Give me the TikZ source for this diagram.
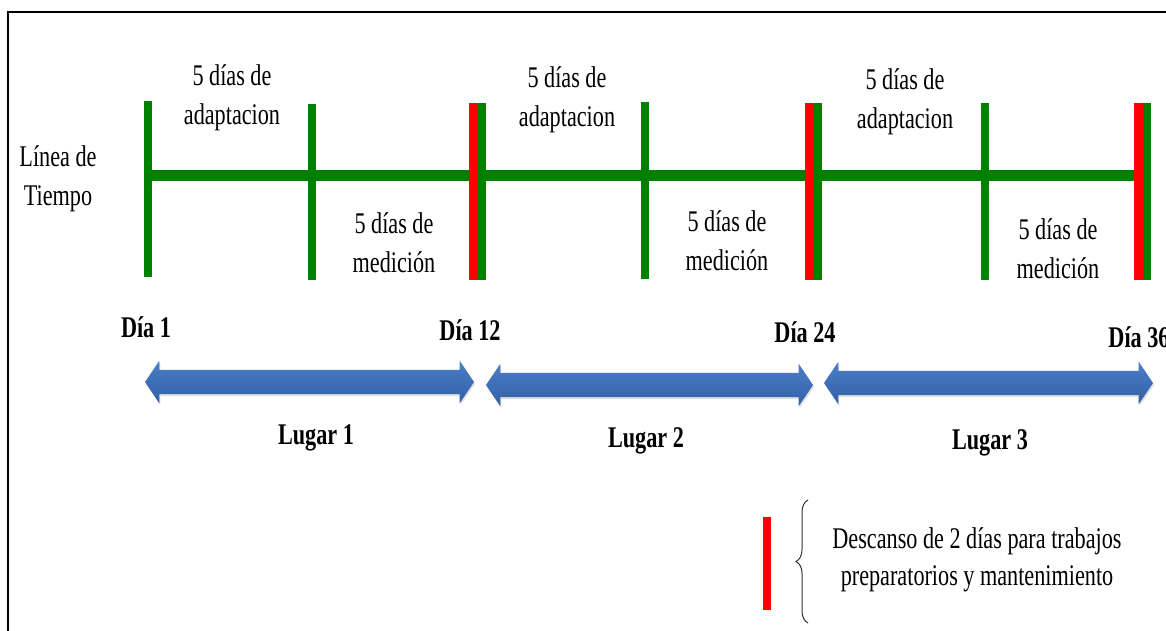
\documentclass[tikz,border=0pt]{standalone}
\usepackage{fontspec}
\setmainfont{Liberation Serif}[FakeStretch=0.74]
\usetikzlibrary{shapes.arrows,shadows,decorations.pathreplacing}

\definecolor{tlgreen}{RGB}{0,128,0}
\definecolor{tlred}{RGB}{255,0,0}
\definecolor{tlblue}{RGB}{74,126,200}
\definecolor{tlbluedark}{RGB}{50,96,165}

\tikzset{
  phase text/.style={font=\fontsize{30}{39}\selectfont, align=center, inner sep=0pt},
  day text/.style={font=\fontsize{30}{38}\selectfont\bfseries, inner sep=0pt},
  timeline/.style={draw=tlgreen, line width=11pt},
  tickbar/.style={draw=tlgreen, line width=8pt},
  restbar/.style={draw=tlred, line width=8.5pt},
  place arrow/.style={double arrow, draw=none, inner xsep=0pt, inner ysep=12pt,
    double arrow head extend=9pt, double arrow tip angle=112,
    top color=tlblue, bottom color=tlbluedark,
    drop shadow={opacity=0.25, shadow xshift=1pt, shadow yshift=-2pt}}
}

\begin{document}
\begin{tikzpicture}[x=1pt, y=-1pt]
    \useasboundingbox (0, 0) rectangle (1166, 631);
    % frame
    \draw[line width=1.5pt] (1166, 12) -- (8, 12) -- (8, 631);

    % time line
    \coordinate (start) at (148, 176);
    \coordinate (end) at (1138, 176);
    \draw[timeline] (start) -- (end);
    \foreach \x/\a/\b in {148/101/277, 312/104/280, 645/102/279, 985/103/280} {
        \draw[tickbar] (\x, \a) -- (\x, \b);
    }
    \foreach \x in {473.5, 809.5, 1138.5} {
        \draw[restbar] (\x, 103) -- (\x, 280);
        \draw[tickbar] (\x + 8, 103) -- (\x + 8, 280);
    }

    \node[phase text] (lineatiempo) at (58, 179) {Línea de\\Tiempo};

    \node[phase text] (adapt1) at (232, 98) {5 días de\\adaptacion};
    \node[phase text] (adapt2) at (567, 100) {5 días de\\adaptacion};
    \node[phase text] (adapt3) at (905, 102) {5 días de\\adaptacion};
    \node[phase text] (medic1) at (394, 243) {5 días de\\medición};
    \node[phase text] (medic2) at (727, 241) {5 días de\\medición};
    \node[phase text] (medic3) at (1058, 249) {5 días de\\medición};

    \node[day text] (dia1) at (146, 327) {Día 1};
    \node[day text] (dia12) at (470, 330) {Día 12};
    \node[day text] (dia24) at (805, 332) {Día 24};
    \node[day text] (dia36) at (1139, 337) {Día 36};

    % places
    \node[place arrow, minimum height=329pt] (arrow1) at (309.5, 382) {};
    \node[place arrow, minimum height=327pt] (arrow2) at (649.5, 385) {};
    \node[place arrow, minimum height=329pt] (arrow3) at (988.5, 383) {};
    \node[day text] (lugar1) at (316, 438) {Lugar 1};
    \node[day text] (lugar2) at (646, 441) {Lugar 2};
    \node[day text] (lugar3) at (990, 443) {Lugar 3};

    % legend
    \draw[restbar, line width=8pt] (767, 517) -- (767, 610);
    \draw[decorate, decoration={brace, amplitude=12pt}, line width=1pt, black!80]
        (808, 623) -- (808, 500);
    \node[phase text, font=\fontsize{30}{37}\selectfont] (descanso) at (977, 560)
        {Descanso de 2 días para trabajos\\preparatorios y mantenimiento};
\end{tikzpicture}
\end{document}
